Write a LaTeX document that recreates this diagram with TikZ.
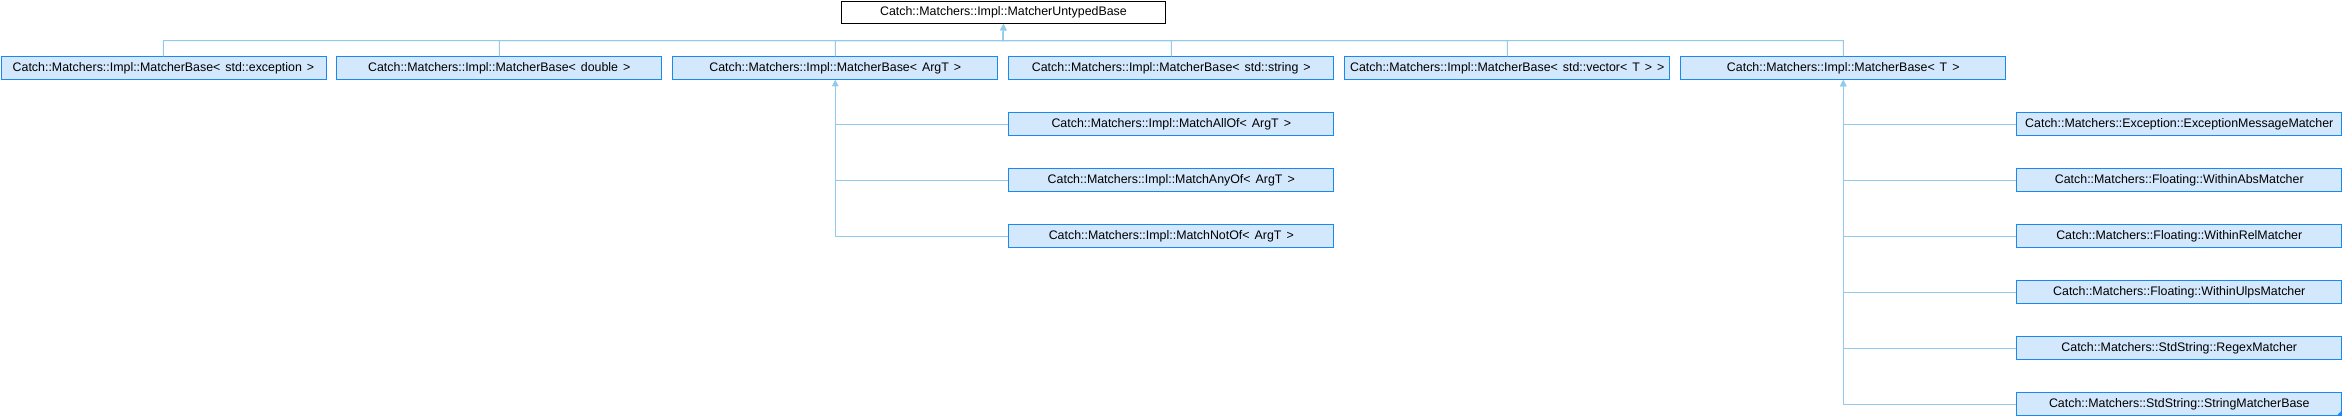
\documentclass[tikz,border=0pt]{standalone}
\usepackage{fontspec}
\setmainfont{Liberation Sans}
\usetikzlibrary{arrows.meta}
\definecolor{boxfill}{RGB}{211,231,253}
\definecolor{boxdraw}{RGB}{24,136,245}
\definecolor{edgecol}{RGB}{146,202,236}
\newcommand{\gsp}{\hspace{5pt}}
\tikzset{
  cls/.style={draw=boxdraw, fill=boxfill, line width=0.9pt, minimum width=325pt, minimum height=23pt,
    inner sep=0pt, anchor=north west, font=\fontsize{12.4}{14}\selectfont},
  rootbox/.style={cls, draw=black, fill=white, minimum width=324pt, minimum height=22.5pt},
  edge/.style={draw=edgecol, line width=1pt, -{Triangle[width=6pt,length=6pt]}},
}
\begin{document}
\begin{tikzpicture}[x=1pt,y=-1pt]
\useasboundingbox (0,0) rectangle (2342,416);
\node[rootbox] (root) at (841,0.8) {Catch::Matchers::Impl::MatcherUntypedBase};
\node[cls] (b1) at (0.5,56.3) {Catch::Matchers::Impl::MatcherBase<\gsp std::exception\gsp >};
\node[cls] (b2) at (336.3,56.3) {Catch::Matchers::Impl::MatcherBase<\gsp double\gsp >};
\node[cls] (b3) at (672.3,56.3) {Catch::Matchers::Impl::MatcherBase<\gsp ArgT\gsp >};
\node[cls] (b4) at (1008.3,56.3) {Catch::Matchers::Impl::MatcherBase<\gsp std::string\gsp >};
\node[cls] (b5) at (1344.3,56.3) {Catch::Matchers::Impl::MatcherBase<\gsp std::vector<\gsp T\gsp >\gsp >};
\node[cls] (b6) at (1680.3,56.3) {Catch::Matchers::Impl::MatcherBase<\gsp T\gsp >};
\node[cls] (a1) at (1008.3,112.3) {Catch::Matchers::Impl::MatchAllOf<\gsp ArgT\gsp >};
\node[cls] (a2) at (1008.3,168.3) {Catch::Matchers::Impl::MatchAnyOf<\gsp ArgT\gsp >};
\node[cls] (a3) at (1008.3,224.3) {Catch::Matchers::Impl::MatchNotOf<\gsp ArgT\gsp >};
\node[cls] (t1) at (2016.3,112.3) {Catch::Matchers::Exception::ExceptionMessageMatcher};
\node[cls] (t2) at (2016.3,168.3) {Catch::Matchers::Floating::WithinAbsMatcher};
\node[cls] (t3) at (2016.3,224.3) {Catch::Matchers::Floating::WithinRelMatcher};
\node[cls] (t4) at (2016.3,280.3) {Catch::Matchers::Floating::WithinUlpsMatcher};
\node[cls] (t5) at (2016.3,336.3) {Catch::Matchers::StdString::RegexMatcher};
\node[cls] (t6) at (2016.3,392.3) {Catch::Matchers::StdString::StringMatcherBase};
\fill[boxdraw] ([xshift=-0.5pt,yshift=0.5pt]t6.south east) -- ++(0,-5) -- ++(-5,5) -- cycle;
\coordinate (bus) at (1003,40.5);
\foreach \b in {b1,b2,b3,b4,b5,b6}{
  \draw[edge] (\b.north) |- (bus) -- (root.south);
}
\foreach \c in {a1,a2,a3}{
  \draw[edge] (\c.west) -| (b3.south);
}
\foreach \c in {t1,t2,t3,t4,t5,t6}{
  \draw[edge] (\c.west) -| (b6.south);
}
\end{tikzpicture}
\end{document}
